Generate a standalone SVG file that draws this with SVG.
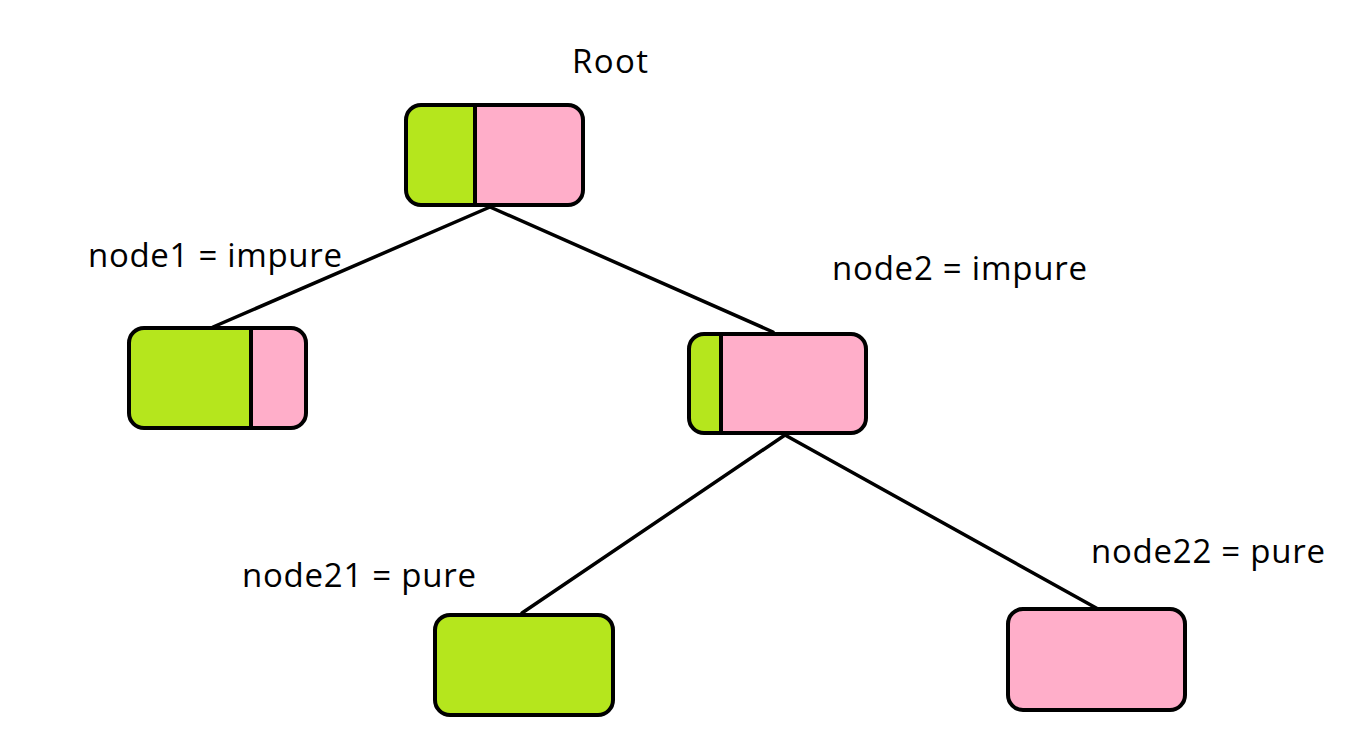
<svg xmlns="http://www.w3.org/2000/svg" width="1356" height="747" viewBox="0 0 1356 747">
<style>
.g{fill:#B5E61D}
.p{fill:#FFAEC9}
.o{fill:none;stroke:#000;stroke-width:4}
.d{stroke:#000;stroke-width:4}
.e{stroke:#000;stroke-width:3.5;fill:none;stroke-linecap:round}
text{font-family:"Open Sans","Noto Sans",sans-serif;font-size:33px;fill:#000}
</style>
<rect width="1356" height="747" fill="#fff"/>
<g id="connectors">
<line class="e" x1="490" y1="207" x2="213" y2="327"/>
<line class="e" x1="490" y1="207" x2="773" y2="332"/>
<line class="e" x1="785" y1="435" x2="522" y2="613"/>
<line class="e" x1="785" y1="435" x2="1098" y2="609"/>
</g>
<g id="root">
<clipPath id="c0"><rect x="406" y="105" width="177" height="100" rx="15"/></clipPath>
<g clip-path="url(#c0)"><rect class="g" x="406" y="105" width="69" height="100"/><rect class="p" x="475" y="105" width="108" height="100"/></g>
<line class="d" x1="475" y1="105" x2="475" y2="205"/>
<rect class="o" x="406" y="105" width="177" height="100" rx="15"/>
<text x="572" y="73" textLength="76">Root</text>
</g>
<g id="node1">
<clipPath id="c1"><rect x="129" y="328" width="177" height="100" rx="15"/></clipPath>
<g clip-path="url(#c1)"><rect class="g" x="129" y="328" width="122" height="100"/><rect class="p" x="251" y="328" width="55" height="100"/></g>
<line class="d" x1="251" y1="328" x2="251" y2="428"/>
<rect class="o" x="129" y="328" width="177" height="100" rx="15"/>
<text x="88" y="267" textLength="254">node1 = impure</text>
</g>
<g id="node2">
<clipPath id="c2"><rect x="689" y="334" width="177" height="99" rx="15"/></clipPath>
<g clip-path="url(#c2)"><rect class="g" x="689" y="334" width="33" height="99"/><rect class="p" x="722" y="334" width="144" height="99"/></g>
<line class="d" x1="721" y1="334" x2="721" y2="433"/>
<rect class="o" x="689" y="334" width="177" height="99" rx="15"/>
<text x="832" y="280" textLength="255">node2 = impure</text>
</g>
<g id="node21">
<rect class="g" x="435" y="615" width="178" height="100" rx="15"/>
<rect class="o" x="435" y="615" width="178" height="100" rx="15"/>
<text x="242" y="587" textLength="234">node21 = pure</text>
</g>
<g id="node22">
<rect class="p" x="1008" y="609" width="177" height="101" rx="15"/>
<rect class="o" x="1008" y="609" width="177" height="101" rx="15"/>
<text x="1091" y="563" textLength="234">node22 = pure</text>
</g>
</svg>
